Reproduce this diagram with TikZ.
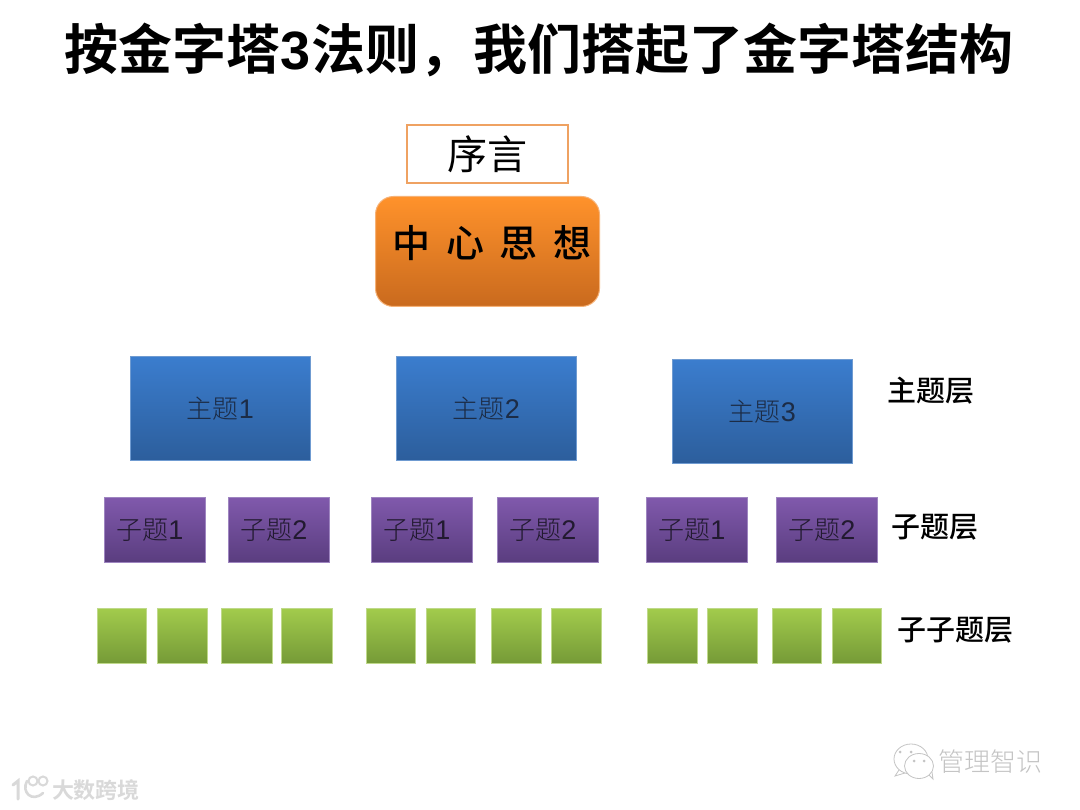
\documentclass[tikz,border=0pt]{standalone}
\usepackage{fontspec}
\setmainfont{Noto Sans CJK SC}
\newfontfamily\cjkb{Noto Sans CJK SC Bold}
\newfontfamily\cjkm{Noto Sans CJK SC Medium}
\newfontfamily\cjkl{Noto Sans CJK SC Light}
\newfontfamily\cjkn{Noto Sans CJK SC}
\newfontfamily\latin{Liberation Sans}
\definecolor{boxedge}{HTML}{EFA262}
\definecolor{orangeA}{HTML}{FF922B}
\definecolor{orangeB}{HTML}{C96A1E}
\definecolor{orangeE}{HTML}{F6B277}
\definecolor{blueA}{HTML}{3B7DCE}
\definecolor{blueB}{HTML}{2C5E9C}
\definecolor{blueE}{HTML}{6F9BD1}
\definecolor{purpA}{HTML}{8059AC}
\definecolor{purpB}{HTML}{5A3D7F}
\definecolor{purpE}{HTML}{9E85C0}
\definecolor{greenA}{HTML}{A2CB4C}
\definecolor{greenB}{HTML}{759A37}
\definecolor{greenE}{HTML}{BFD98A}
\definecolor{wmgrey}{HTML}{C4C4C4}
\definecolor{wmlight}{HTML}{D9D9D9}
\definecolor{topicink}{HTML}{1C2C46}
\definecolor{subink}{HTML}{221A30}
\tikzset{
  x=1pt,y=-1pt,
  plain/.style={inner sep=0pt,outer sep=0pt,anchor=center},
  preface/.style={plain,draw=boxedge,line width=2.6pt,fill=white,minimum width=161pt,minimum height=58pt,font=\cjkn\fontsize{40}{40}\selectfont},
  core/.style={plain,draw=orangeE,line width=1pt,rounded corners=18pt,top color=orangeA,bottom color=orangeB,minimum width=224pt,minimum height=110pt},
  topic/.style={plain,draw=blueE,line width=1pt,top color=blueA,bottom color=blueB,minimum width=180pt,minimum height=104pt,text=topicink,font=\cjkl\fontsize{26}{26}\selectfont},
  subtopic/.style={plain,draw=purpE,line width=1pt,top color=purpA,bottom color=purpB,minimum width=101pt,minimum height=65pt,text=subink,font=\cjkl\fontsize{26}{26}\selectfont},
  leaf/.style={plain,draw=greenE,line width=1pt,top color=greenA,bottom color=greenB,minimum height=55pt},
  layer/.style={plain,font=\cjkm\fontsize{29}{29}\selectfont},
  title/.style={plain,font=\cjkb\fontsize{54}{54}\selectfont}
}
\newcommand{\nm}[1]{{\latin\fontsize{27}{27}\selectfont #1}}
\newcommand{\sbt}[1]{子题\nm{#1}\kern10pt}
\begin{document}
\begin{tikzpicture}
\useasboundingbox (0,0) rectangle (1080,810);
\fill[white] (0,0) rectangle (1080,810);

\node[title] (head) at (539,50) {按金字塔\hspace{0.5pt}{\latin\bfseries 3}\hspace{0.5pt}法则，我们搭起了金字塔结构};

\node[preface] (pre) at (487.5,154) {序言};
\node[core] (core) at (487.5,251.5) {};
\node[plain,font=\cjkm\fontsize{38}{38}\selectfont] (coretext) at (492,243) {中\hspace{16pt}心\hspace{16pt}思\hspace{16pt}想};

\node[topic] (t1) at (220.5,408.5) {主题\nm{1}};
\node[topic] (t2) at (486.5,408.5) {主题\nm{2}};
\node[topic] (t3) at (762.5,411.5) {主题\nm{3}};

\node[subtopic] (s1) at (155,530) {\sbt{1}};
\node[subtopic] (s2) at (279,530) {\sbt{2}};
\node[subtopic] (s3) at (422,530) {\sbt{1}};
\node[subtopic] (s4) at (548,530) {\sbt{2}};
\node[subtopic] (s5) at (697,530) {\sbt{1}};
\node[subtopic] (s6) at (827,530) {\sbt{2}};

\foreach \n/\cx/\w in {a/122/49,b/182.5/50,c/247/51,d/307/51,e/391/49,f/451/49,g/516.5/50,h/576.5/50,i/672.5/50,j/732.5/50,k/797/49,l/857/49}
  \node[leaf,minimum width=\w pt] (g\n) at (\cx,636) {};

\node[layer] (l1) at (930.5,391) {主题层};
\node[layer] (l2) at (934.5,527) {子题层};
\node[layer] (l3) at (955,630) {子子题层};

% watermark right
\draw[wmgrey,line width=0.8pt,fill=white] (911,759) ellipse (17pt and 15pt);
\draw[wmgrey,line width=0.8pt] (899,770) -- (895,776) -- (905,773);
\draw[wmgrey,line width=0.8pt,fill=white] (919,766) ellipse (14.5pt and 12.5pt);
\draw[wmgrey,line width=0.8pt] (929,775) -- (933,779) -- (932,772);
\fill[wmgrey] (900,752) circle (1.5pt) (911,752) circle (1.5pt) (914,761) circle (1.5pt) (924,761) circle (1.5pt);
\node[plain,text=wmgrey,font=\cjkl\fontsize{26}{26}\selectfont] (wm1) at (990,762) {管理智识};

% watermark left
\draw[wmlight,line width=3pt,line cap=round] (13,785) -- (18,781) -- (18,799);
\draw[wmlight,line width=2.6pt,line cap=round] (27,781) .. controls (21,792) and (32,803) .. (43,793);
\draw[wmlight,line width=2pt] (33,781) circle (4.5pt) (43,781) circle (4.5pt);
\node[plain,text=wmlight,font=\cjkb\fontsize{22}{22}\selectfont] (wm2) at (96,790) {大数跨境};
\end{tikzpicture}
\end{document}
